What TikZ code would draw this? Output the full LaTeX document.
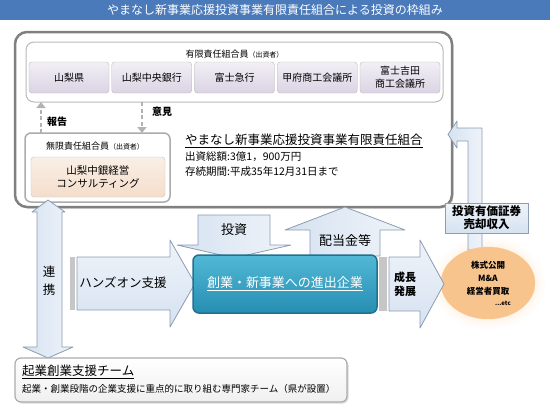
\documentclass[tikz,border=0pt]{standalone}
\usepackage{fontspec}
\setmainfont{Noto Sans CJK JP}
\usepackage{xcolor}
\usepackage{tikz}
\usetikzlibrary{shapes.geometric, arrows.meta, positioning, calc, shadows}
\definecolor{barblue}{RGB}{74,122,186}
\definecolor{framegray}{RGB}{128,128,128}
\definecolor{lavender}{RGB}{218,211,228}
\definecolor{peach}{RGB}{244,222,204}
\definecolor{arrowblue}{RGB}{214,226,241}
\definecolor{arrowline}{RGB}{140,156,178}
\definecolor{teallight}{RGB}{82,184,214}
\definecolor{tealdark}{RGB}{38,142,178}
\definecolor{tealline}{RGB}{34,112,142}
\definecolor{orangefill}{RGB}{248,196,142}
\tikzstyle{frame} = [rectangle, inner sep=0pt, outer sep=0pt, fill=white]
\tikzstyle{member} = [rectangle, rounded corners=3pt, minimum width=80pt, minimum height=31pt, inner sep=0pt, outer sep=0pt, text centered, draw=gray!55, top color=lavender!35, bottom color=lavender, font=\fontsize{10}{12}\selectfont]
\tikzstyle{blockarrow} = [draw=arrowline, line width=0.8pt, line join=round, top color=arrowblue!40, bottom color=arrowblue]
\tikzstyle{varrow} = [blockarrow, left color=arrowblue, right color=arrowblue!40]
\tikzstyle{dasharrow} = [draw=gray!60, line width=2.5pt, dash pattern=on 4pt off 2.5pt, -{Triangle[width=9pt, length=6pt]}]
\tikzstyle{arrowtext} = [inner sep=0pt, font=\fontsize{13}{15}\selectfont]
\tikzstyle{smalltext} = [inner sep=0pt, anchor=west]

\begin{document}
\begin{tikzpicture}[x=1pt, y=-1pt]
            \useasboundingbox (0,0) rectangle (550,413);

            % Title bar
            \node (title) [rectangle, fill=barblue, minimum width=550pt, minimum height=20pt, inner sep=0pt, text=white, font=\fontsize{12}{14}\selectfont] at (275,10) {やまなし新事業応援投資事業有限責任組合による投資の枠組み};

            % Fund
            \node (fund) [frame, draw=framegray, line width=2.5pt, rounded corners=12pt, minimum width=437pt, minimum height=175pt, drop shadow={shadow xshift=1.5pt, shadow yshift=-1.5pt, opacity=0.3}] at (233.5,119.5) {};

            % Limited partners
            \node (members) [frame, draw=gray!55, line width=1pt, rounded corners=8pt, minimum width=417pt, minimum height=60pt] at (234.5,72) {};
            \node (memberslabel) [inner sep=0pt, font=\fontsize{9}{11}\selectfont] at (234.5,54) {有限責任組合員{\fontsize{7}{9}\selectfont（出資者）}};
            \node (m1) [member] at (69,77.5) {山梨県};
            \node (m2) [member, right=2.75pt of m1] {山梨中央銀行};
            \node (m3) [member, right=2.75pt of m2] {富士急行};
            \node (m4) [member, right=2.75pt of m3] {甲府商工会議所};
            \node (m5) [member, right=2.75pt of m4, align=center, font=\fontsize{10}{13}\selectfont] {富士吉田\\商工会議所};

            % General partner
            \node (gp) [frame, draw=gray!65, line width=1.5pt, rounded corners=6pt, minimum width=145pt, minimum height=69pt] at (97.5,167.5) {};
            \node (gplabel) [inner sep=0pt, font=\fontsize{9}{11}\selectfont] at (95,146) {無限責任組合員{\fontsize{7}{9}\selectfont（出資者）}};
            \node (gpfirm) [rectangle, rounded corners=3pt, draw=gray!45, top color=peach!50, bottom color=peach, minimum width=134pt, minimum height=40pt, inner sep=0pt, align=center, font=\fontsize{10.5}{13}\selectfont] at (98,177) {山梨中銀経営\\コンサルティング};

            % Report / opinion
            \coordinate (reportfoot) at ([xshift=16pt]gp.north west);
            \coordinate (reporthead) at (reportfoot |- members.south);
            \coordinate (opinionhead) at ([xshift=-28pt]gp.north east);
            \coordinate (opinionfoot) at (opinionhead |- members.south);
            \draw [dasharrow] (reportfoot) -- (reporthead);
            \draw [dasharrow] (opinionfoot) -- (opinionhead);
            \node (report) [inner sep=0pt, font=\bfseries\fontsize{10}{12}\selectfont] at (57,122) {報告};
            \node (opinion) [inner sep=0pt, font=\bfseries\fontsize{10}{12}\selectfont] at (162,112) {意見};

            % Fund details
            \node (fundname) [smalltext, font=\fontsize{12.5}{15}\selectfont] at (185,141) {\underline{やまなし新事業応援投資事業有限責任組合}};
            \node (capital) [smalltext, font=\fontsize{10.5}{12}\selectfont] at (185,157) {出資総額:3億1，900万円};
            \node (term) [smalltext, font=\fontsize{10.5}{12}\selectfont] at (185,172) {存続期間:平成35年12月31日まで};

            % Block arrows
            \draw [varrow] (48,200) -- (65,212) -- (62,212) -- (62,347) -- (73,347) -- (48,358) -- (23,347) -- (37,347) -- (37,212) -- (32,212) -- cycle;
            \node (link) [arrowtext, align=center, font=\fontsize{12.5}{18}\selectfont] at (49,281) {連\\携};

            \fill [gray!45] (70,257) rectangle (75,310);
            \draw [blockarrow] (77,257) -- (170,257) -- (170,240) -- (195,283.5) -- (170,327) -- (170,310) -- (77,310) -- cycle;
            \node (handson) [arrowtext, font=\fontsize{12.5}{15}\selectfont] at (123,283) {ハンズオン支援};

            \draw [varrow] (198,215) -- (270,215) -- (270,245) -- (291,245) -- (234,258) -- (177,245) -- (198,245) -- cycle;
            \node (invest) [arrowtext] at (234,230) {投資};

            \draw [varrow] (310,256) -- (310,230) -- (285,230) -- (345,207) -- (405,230) -- (380,230) -- (380,256) -- cycle;
            \node (dividend) [arrowtext] at (345,241) {配当金等};

            % Target company
            \node (target) [rectangle, rounded corners=6pt, draw=tealline, line width=1.5pt, top color=teallight, bottom color=tealdark, minimum width=184pt, minimum height=58pt, inner sep=0pt, text=white, font=\fontsize{13}{15}\selectfont] at (285,284) {\underline{創業・新事業への進出企業}};

            % Exit
            \shade [inner color=orange!35, outer color=white] (488,283) ellipse [x radius=58pt, y radius=47pt];
            \draw [varrow] (468,250) -- (468,141) -- (457,141) -- (457,148) -- (448,134.5) -- (457,121) -- (457,128) -- (482,128) -- (482,250) -- cycle;
            \node (salelabel) [rectangle, draw=arrowline, line width=0.8pt, top color=arrowblue!40, bottom color=arrowblue, minimum width=83pt, minimum height=30pt, inner sep=0pt, align=center, font=\bfseries\fontsize{11.5}{13}\selectfont] at (486.5,218) {投資有価証券\\売却収入};
            \node (exit) [ellipse, fill=orangefill, draw=orange!45, minimum width=94pt, minimum height=72pt, inner sep=0pt, align=center, font=\bfseries\fontsize{8.5}{13}\selectfont] at (488,283) {株式公開\\M\&A\\経営者買取\\[-2pt]\hspace*{30pt}{\fontsize{6}{7}\selectfont ...etc}};

            \fill [gray!45] (379,257) rectangle (387,311);
            \draw [blockarrow] (389,257) -- (420,257) -- (420,240) -- (444,284) -- (420,328) -- (420,311) -- (389,311) -- cycle;
            \node (growth) [arrowtext, align=center, font=\bfseries\fontsize{11}{14}\selectfont] at (405,284) {成長\\発展};

            % Support team
            \node (team) [frame, draw=gray!65, line width=1.2pt, rounded corners=6pt, top color=white, bottom color=gray!12, minimum width=332pt, minimum height=44pt, drop shadow={shadow xshift=1.5pt, shadow yshift=-1.5pt, opacity=0.3}] at (181,380) {};
            \node (teamname) [smalltext, font=\fontsize{12.5}{15}\selectfont] at (22,372) {\underline{起業創業支援チーム}};
            \node (teamnote) [smalltext, font=\fontsize{9.5}{11}\selectfont] at (22,389) {起業・創業段階の企業支援に重点的に取り組む専門家チーム（県が設置）};
        \end{tikzpicture}
\end{document}
